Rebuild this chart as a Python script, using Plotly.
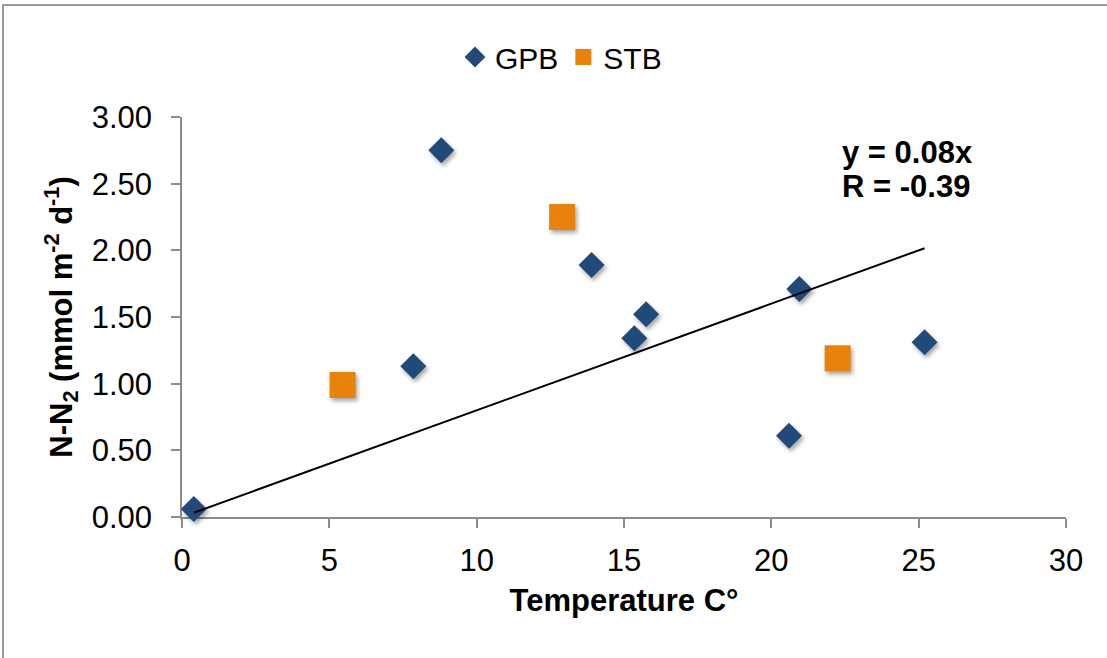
import plotly.graph_objects as go

# Measured N-N2 flux against water temperature
gpb_temp = [0.4, 8.8, 7.85, 13.9, 15.75, 15.35, 20.95, 20.6, 25.2]
gpb_n2 = [0.06, 2.75, 1.13, 1.89, 1.52, 1.34, 1.71, 0.61, 1.31]
stb_temp = [5.45, 12.9, 22.25]
stb_n2 = [0.99, 2.25, 1.19]

# Linear fit through the origin over the GPB temperature span
slope = 0.08
fit_r = -0.39
fit_x = [min(gpb_temp), max(gpb_temp)]
fit_y = [slope * v for v in fit_x]

x_ticks = [0, 5, 10, 15, 20, 25, 30]
y_ticks = [0.0, 0.5, 1.0, 1.5, 2.0, 2.5, 3.0]

FONT = "Liberation Sans, Arial, sans-serif"
BLUE = "#1F4A7A"
ORANGE = "#E8820A"
AXIS = "#8c8c8c"

W, H = 1107, 658
ML, MR, MT, MB = 182, 41, 117, 141
PW, PH = W - ML - MR, H - MT - MB


def px_x(p):
    return (p - ML) / PW


def px_y(p):
    return (H - MB - p) / PH


fig = go.Figure()
fig.add_trace(go.Scatter(
    x=gpb_temp, y=gpb_n2, mode="markers", name="GPB",
    marker=dict(symbol="diamond", size=20, color=BLUE, line=dict(width=0)),
    cliponaxis=False,
))
fig.add_trace(go.Scatter(
    x=stb_temp, y=stb_n2, mode="markers", name="STB",
    marker=dict(symbol="square", size=26, color=ORANGE, line=dict(width=0)),
    cliponaxis=False,
))
fig.add_trace(go.Scatter(
    x=fit_x, y=fit_y, mode="lines", showlegend=False,
    line=dict(color="black", width=2), cliponaxis=False,
))

fig.add_annotation(
    x=px_x(840), y=px_y(152), xref="paper", yref="paper",
    xanchor="left", yanchor="middle", showarrow=False,
    text=f"y = {slope:.2f}x",
    font=dict(family=FONT, size=31, color="black", weight="bold"),
)
fig.add_annotation(
    x=px_x(840), y=px_y(186), xref="paper", yref="paper",
    xanchor="left", yanchor="middle", showarrow=False,
    text=f"R = {fit_r:.2f}",
    font=dict(family=FONT, size=31, color="black", weight="bold"),
)

# chart frame
fig.add_shape(
    type="rect", xref="paper", yref="paper",
    x0=px_x(3), x1=px_x(1160), y0=px_y(5), y1=px_y(700),
    line=dict(color="#9a9a9a", width=2), fillcolor="rgba(0,0,0,0)", layer="below",
)

axis_common = dict(
    showgrid=False, zeroline=False, showline=True,
    linecolor=AXIS, linewidth=1.5,
    ticks="outside", ticklen=9, tickwidth=1.5, tickcolor=AXIS,
    tickfont=dict(family=FONT, size=31, color="black"),
    layer="below traces",
)

fig.update_xaxes(
    range=[0, 30], tickvals=x_ticks, ticktext=[str(v) for v in x_ticks],
    title=dict(text="Temperature C°", standoff=12,
               font=dict(family=FONT, size=31, color="black", weight="bold")),
    ticklabelstandoff=6,
    **axis_common,
)
fig.update_yaxes(
    range=[0, 3], tickvals=y_ticks, ticktext=[f"{v:.2f}" for v in y_ticks],
    title=dict(text="N-N<sub>2</sub> (mmol m<sup>-2</sup> d<sup>-1</sup>)", standoff=10,
               font=dict(family=FONT, size=31, color="black", weight="bold")),
    ticklabelstandoff=13,
    **axis_common,
)

fig.update_layout(
    width=W, height=H, autosize=False,
    margin=dict(l=ML, r=MR, t=MT, b=MB, pad=0),
    paper_bgcolor="white", plot_bgcolor="white",
    font=dict(family=FONT, color="black"),
    showlegend=True,
    legend=dict(
        orientation="h", x=px_x(455), y=px_y(57), xanchor="left", yanchor="middle",
        font=dict(family=FONT, size=30, color="black"),
        bgcolor="rgba(0,0,0,0)", itemclick=False,
    ),
)

# soft drop shadow under the plotted markers
shadow_js = """
var gd = document.getElementById('{plot_id}');
gd.querySelectorAll('.scatterlayer .trace .points path').forEach(function(p){
    p.style.filter = 'drop-shadow(2px 3px 2px rgba(0,0,0,0.35))';
});
"""

fig.write_html("out.html", post_script=shadow_js)
